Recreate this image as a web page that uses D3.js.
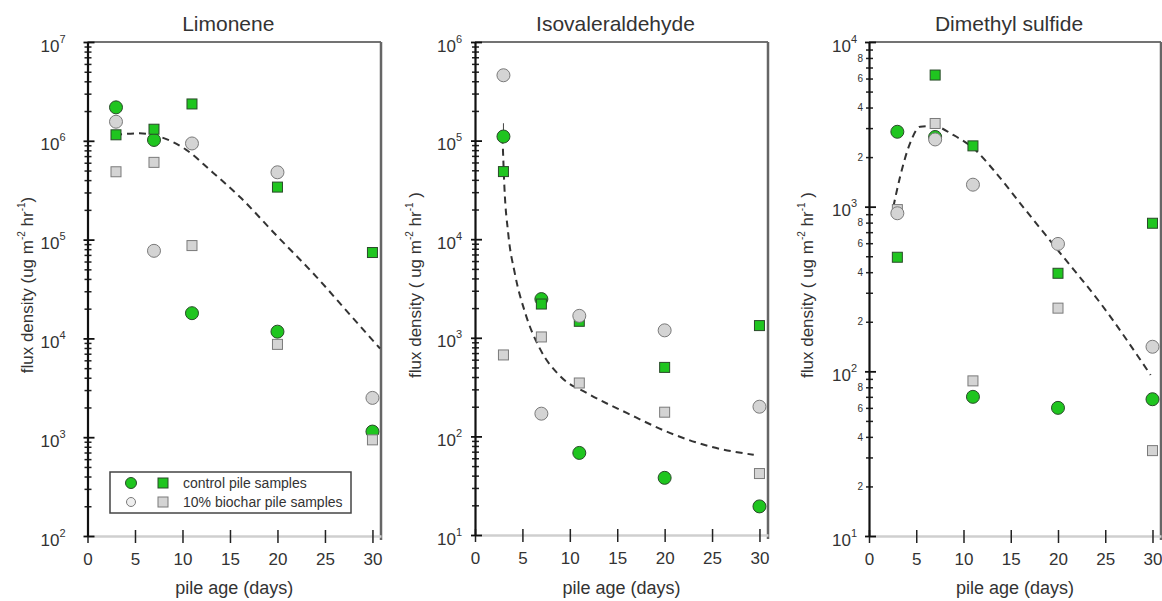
<!DOCTYPE html>
<html>
<head>
<meta charset="utf-8">
<script src="https://cdn.jsdelivr.net/npm/d3@7"></script>
<style>
  body { margin: 0; background: #fff; }
  svg { display: block; }
  text { font-family: "Liberation Sans", Arial, sans-serif; fill: #333; }
</style>
</head>
<body>
<svg width="1162" height="601"></svg>
<script>
// sampling days (x) shared by every series
const days = [3, 7, 11, 20, 30];
const xTicks = [0, 5, 10, 15, 20, 25, 30];
const titles = ["Limonene", "Isovaleraldehyde", "Dimethyl sulfide"];

// Limonene
const limCtrlCircle = [2.18e6, 1.02e6, 1.8e4, 1.17e4, 1.14e3];
const limCtrlSquare = [1.15e6, 1.31e6, 2.36e6, 3.4e5, 7.4e4];
const limBioCircle = [1.56e6, 7.7e4, 9.4e5, 4.8e5, 2.5e3];
const limBioSquare = [4.86e5, 6.05e5, 8.7e4, 8.7e3, 940];
const limFitDays = [2.9, 5.5, 7.6, 10.4, 12.9, 16.05, 19.9, 24.1, 27.6, 30.8];
const limFitVals = [1.15e6, 1.19e6, 1.1e6, 8.1e5, 5.06e5, 2.7e5, 1.1e5, 4.2e4, 1.75e4, 7.9e3];

// Isovaleraldehyde
const isoCtrlCircle = [1.1e5, 2.47e3, 68, 38, 19.5];
const isoCtrlSquare = [4.85e4, 2.2e3, 1.47e3, 501, 1.33e3];
const isoBioCircle = [4.6e5, 170, 1.67e3, 1.19e3, 200];
const isoBioSquare = [670, 1.02e3, 348, 176, 42];
const isoFitDays = [2.9, 3.1, 3.5, 4.2, 5.3, 6.9, 9.0, 11.8, 16.0, 20.6, 24.8, 29.4];
const isoFitVals = [1.1e5, 3.4e4, 1.15e4, 4.5e3, 1.78e3, 758, 407, 275, 173, 108, 79, 65];
const isoErrTop = 1.5e5;

// Dimethyl sulfide
const dmsCtrlCircle = [2.85e3, 2.65e3, 70, 60, 67.7];
const dmsCtrlSquare = [493, 6.3e3, 2.34e3, 394, 793];
const dmsBioCircle = [912, 2.56e3, 1.36e3, 594, 141];
const dmsBioSquare = [960, 3.2e3, 87.5, 242, 33];
const dmsFitDays = [2.58, 3.29, 4.35, 5.41, 6.82, 8.94, 11.06, 13.18, 16.0, 20.25, 24.5, 29.8];
const dmsFitVals = [1000, 1520, 2430, 3060, 3090, 2720, 2260, 1670, 1047, 521, 259, 95];

const green = "#1fc51f", greenEdge = "#2a4a2a";
const grey = "#d4d4d4", greyEdge = "#7a7a7a";

const svg = d3.select("svg");

const panels = [
  { left: 87.5, right: 381, top: 42, bottom: 536, yDomain: [1e2, 1e7], labelGap: 22, yLabelX: 33,
    ylabel: ["flux density (ug m", " hr", ")"], ctrlC: limCtrlCircle, ctrlS: limCtrlSquare,
    bioC: limBioCircle, bioS: limBioSquare, fitX: limFitDays, fitY: limFitVals, legend: true },
  { left: 475, right: 768, top: 42, bottom: 535, yDomain: [1e1, 1e6], labelGap: 13, yLabelX: 421,
    ylabel: ["flux density ( ug m", " hr", " )"], ctrlC: isoCtrlCircle, ctrlS: isoCtrlSquare,
    bioC: isoBioCircle, bioS: isoBioSquare, fitX: isoFitDays, fitY: isoFitVals, err: isoErrTop },
  { left: 869, right: 1161, top: 42, bottom: 536, yDomain: [1e1, 1e4], labelGap: 12, yLabelX: 813,
    ylabel: ["flux density ( ug m", " hr", " )"], ctrlC: dmsCtrlCircle, ctrlS: dmsCtrlSquare,
    bioC: dmsBioCircle, bioS: dmsBioSquare, fitX: dmsFitDays, fitY: dmsFitVals, minorLabels: true }
];

function circles(g, x, y, vals, fill, stroke) {
  g.selectAll(null).data(vals.map((v, i) => [days[i], v])).join("circle")
    .attr("cx", d => x(d[0])).attr("cy", d => y(d[1])).attr("r", 6.5)
    .attr("fill", fill).attr("stroke", stroke).attr("stroke-width", 1);
}

function squares(g, x, y, vals, fill, stroke) {
  g.selectAll(null).data(vals.map((v, i) => [days[i], v])).join("rect")
    .attr("x", d => x(d[0]) - 5).attr("y", d => y(d[1]) - 5)
    .attr("width", 10).attr("height", 10)
    .attr("fill", fill).attr("stroke", stroke).attr("stroke-width", 1);
}

panels.forEach((p, i) => {
  const g = svg.append("g");
  const x = d3.scaleLinear().domain([0, 30.9]).range([p.left, p.right]);
  const y = d3.scaleLog().domain(p.yDomain).range([p.bottom, p.top]);

  // frame: top and right
  g.append("line").attr("x1", p.left).attr("x2", p.right).attr("y1", p.top).attr("y2", p.top)
    .attr("stroke", "#444").attr("stroke-width", 1.5);
  g.append("line").attr("x1", p.right).attr("x2", p.right).attr("y1", p.top).attr("y2", p.bottom + 4)
    .attr("stroke", "#666").attr("stroke-width", 2.5);

  // x axis
  const gx = g.append("g").attr("transform", `translate(0,${p.bottom})`)
    .call(d3.axisBottom(x).tickValues(xTicks).tickSize(7).tickSizeOuter(0).tickFormat(d3.format("d")));
  gx.select(".domain").attr("stroke", "#cfcfcf").attr("stroke-width", 2.5);
  gx.selectAll(".tick line").attr("y1", -6).attr("stroke", "#222").attr("stroke-width", 1.5);
  gx.selectAll(".tick text").attr("dy", null).attr("y", 29).attr("font-size", 17)
    .attr("font-family", "Liberation Sans, Arial, sans-serif").attr("fill", "#333");

  // y axis, minor ticks
  const [lo, hi] = p.yDomain.map(v => Math.round(Math.log10(v)));
  const majors = d3.range(lo, hi + 1).map(e => Math.pow(10, e));
  const minors = [];
  d3.range(lo, hi).forEach(e => d3.range(2, 10).forEach(m => minors.push(m * Math.pow(10, e))));

  const gm = g.append("g").attr("transform", `translate(${p.left},0)`)
    .call(d3.axisLeft(y).tickValues(minors).tickSize(3).tickSizeOuter(0).tickFormat(""));
  gm.select(".domain").remove();
  gm.selectAll(".tick line").attr("x1", 4).attr("stroke", "#222").attr("stroke-width", 1.5);
  if (p.minorLabels) {
    gm.selectAll(".tick text")
      .text(d => { const m = Math.round(d / Math.pow(10, Math.floor(Math.log10(d) + 1e-9))); return m % 2 === 0 ? m : ""; })
      .attr("x", -6).attr("font-size", 10).attr("fill", "#888")
      .attr("font-family", "Liberation Sans, Arial, sans-serif");
  }

  // y axis, decades
  const gy = g.append("g").attr("transform", `translate(${p.left},0)`)
    .call(d3.axisLeft(y).tickValues(majors).tickSize(4).tickSizeOuter(0));
  gy.select(".domain").attr("stroke", "#111").attr("stroke-width", 2.2);
  gy.selectAll(".tick line").attr("x1", 7).attr("stroke", "#111").attr("stroke-width", 1.8);
  gy.selectAll(".tick text").each(function(d) {
    const t = d3.select(this).text(null).attr("x", -p.labelGap).attr("dy", null).attr("y", 9)
      .attr("font-size", 17).attr("fill", "#333").attr("font-family", "Liberation Sans, Arial, sans-serif");
    t.append("tspan").text("10");
    t.append("tspan").attr("dy", -9).attr("font-size", 11).text(Math.round(Math.log10(d)));
  });

  // fitted curve
  const fit = p.fitX.map((d, k) => [d, p.fitY[k]]);
  g.append("path").datum(fit)
    .attr("d", d3.line().x(d => x(d[0])).y(d => y(d[1])).curve(d3.curveMonotoneX))
    .attr("fill", "none").attr("stroke", "#333").attr("stroke-width", 2).attr("stroke-dasharray", "7,5");

  if (p.err) {
    g.append("line").attr("x1", x(days[0])).attr("x2", x(days[0]))
      .attr("y1", y(p.ctrlC[0])).attr("y2", y(p.err)).attr("stroke", "#444").attr("stroke-width", 1);
  }

  // samples
  circles(g, x, y, p.ctrlC, green, greenEdge);
  squares(g, x, y, p.bioS, grey, greyEdge);
  squares(g, x, y, p.ctrlS, green, greenEdge);
  circles(g, x, y, p.bioC, grey, greyEdge);

  // title
  g.append("text").attr("x", (p.left + p.right) / 2 - 6).attr("y", 31)
    .attr("text-anchor", "middle").attr("font-size", 21).text(titles[i]);

  // x label
  g.append("text").attr("x", (p.left + p.right) / 2).attr("y", 594)
    .attr("text-anchor", "middle").attr("font-size", 18).text("pile age (days)");

  // y label
  const yl = g.append("text").attr("transform", `translate(${p.yLabelX},285) rotate(-90)`)
    .attr("text-anchor", "middle").attr("font-size", 17);
  yl.append("tspan").text(p.ylabel[0]);
  yl.append("tspan").attr("dy", -8).attr("font-size", 10).text("-2");
  yl.append("tspan").attr("dy", 8).text(p.ylabel[1]);
  yl.append("tspan").attr("dy", -8).attr("font-size", 10).text("-1");
  yl.append("tspan").attr("dy", 8).text(p.ylabel[2]);

  if (p.legend) {
    const lg = g.append("g");
    lg.append("rect").attr("x", 110).attr("y", 472).attr("width", 241).attr("height", 41)
      .attr("fill", "#fff").attr("stroke", "#444").attr("stroke-width", 1.5);
    lg.append("circle").attr("cx", 131).attr("cy", 483).attr("r", 5.5).attr("fill", green).attr("stroke", greenEdge);
    lg.append("rect").attr("x", 158).attr("y", 478).attr("width", 10).attr("height", 10).attr("fill", green).attr("stroke", greenEdge);
    lg.append("circle").attr("cx", 131).attr("cy", 502).attr("r", 4.5).attr("fill", "#eee").attr("stroke", greyEdge);
    lg.append("rect").attr("x", 158).attr("y", 497).attr("width", 10).attr("height", 10).attr("fill", grey).attr("stroke", greyEdge);
    lg.append("text").attr("x", 183).attr("y", 488).attr("font-size", 14).text("control pile samples");
    lg.append("text").attr("x", 183).attr("y", 507).attr("font-size", 14).text("10% biochar pile samples");
  }
});
</script>
</body>
</html>
